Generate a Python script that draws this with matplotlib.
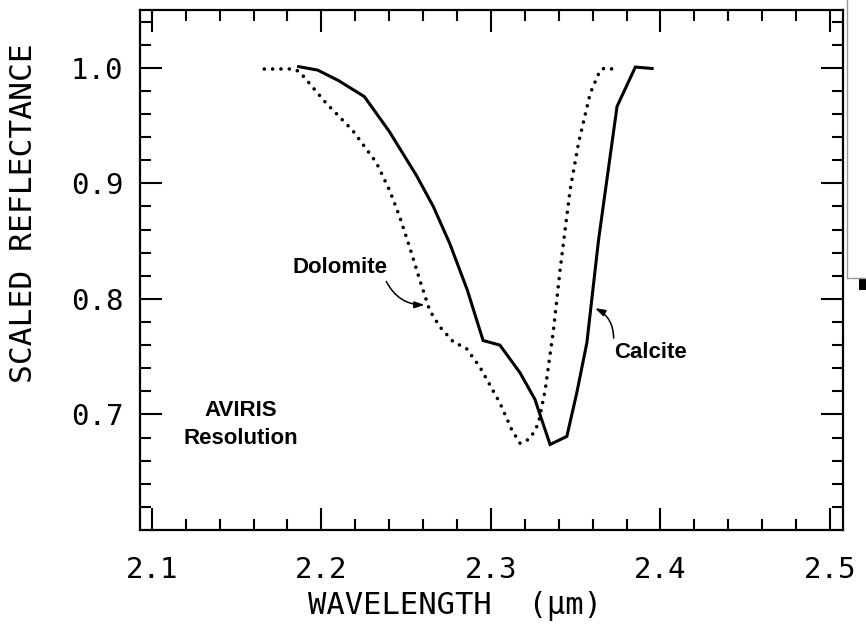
import numpy as np
import matplotlib
matplotlib.use('Agg')
import matplotlib.pyplot as plt
from matplotlib.lines import Line2D
from matplotlib.patches import Rectangle

# Calcite spectrum (solid line), AVIRIS resolution
calcite_wl = [2.1866, 2.1978, 2.2100, 2.2254, 2.2400, 2.2560, 2.2660, 2.2757,
              2.2860, 2.2954, 2.3053, 2.3172, 2.3260, 2.3280, 2.3349, 2.3448,
              2.3507, 2.3566, 2.3635, 2.3744, 2.3852, 2.3951]
calcite_refl = [1.001, 0.998, 0.989, 0.975, 0.945, 0.907, 0.880, 0.848,
                0.808, 0.764, 0.760, 0.736, 0.713, 0.704, 0.674, 0.681,
                0.719, 0.762, 0.851, 0.9665, 1.0006, 0.9994]

# Dolomite spectrum (dotted line)
dolomite_wl = [2.1663, 2.1828, 2.1870, 2.2028, 2.2183, 2.2324, 2.2402, 2.2462,
               2.2520, 2.2580, 2.2639, 2.2698, 2.2777, 2.2856, 2.2935, 2.3053,
               2.3122, 2.3172, 2.3231, 2.3280, 2.3320, 2.3369, 2.3408, 2.3467,
               2.3517, 2.3586, 2.3645, 2.3675, 2.3753]
dolomite_refl = [0.9989, 0.9990, 0.9968, 0.9694, 0.946, 0.918, 0.894, 0.871,
                 0.845, 0.8165, 0.790, 0.776, 0.763, 0.757, 0.741, 0.710,
                 0.687, 0.675, 0.679, 0.692, 0.721, 0.773, 0.825, 0.894,
                 0.935, 0.978, 0.998, 1.000, 0.998]

x_major = [2.1, 2.2, 2.3, 2.4, 2.5]
y_major = [0.7, 0.8, 0.9, 1.0]

mono = 'DejaVu Sans Mono'
sans = 'Liberation Sans'

fig = plt.figure(figsize=(8.66, 6.28), dpi=100)
W, H = 866, 628
ax = fig.add_axes([140 / W, (H - 530) / H, (843 - 140) / W, (530 - 10) / H])

ax.plot(calcite_wl, calcite_refl, color='black', lw=2.2, solid_joinstyle='miter')
ax.plot(dolomite_wl, dolomite_refl, color='black', lw=2.6,
        linestyle=(0, (0.01, 2.3)), dash_capstyle='round')

ax.set_xlim(2.093, 2.5077)
ax.set_ylim(0.6, 1.05)

ax.set_xticks(x_major)
ax.set_xticks(np.arange(2.1, 2.5001, 0.02), minor=True)
ax.set_yticks(y_major)
ax.set_yticks(np.arange(0.62, 1.0401, 0.02), minor=True)
ax.set_xticklabels(['%.1f' % v for v in x_major], fontfamily=mono, fontsize=21)
ax.set_yticklabels(['%.1f' % v for v in y_major], fontfamily=mono, fontsize=21)

ax.tick_params(which='both', direction='in', top=True, right=True, width=1.5)
ax.tick_params(which='major', length=15.5)
ax.tick_params(which='minor', length=8)
ax.tick_params(axis='x', which='major', pad=19)
ax.tick_params(axis='y', which='major', pad=12)
for s in ax.spines.values():
    s.set_linewidth(1.6)

ax.set_xlabel('WAVELENGTH  (\u03bcm)', fontfamily=mono, fontsize=22)
ax.set_ylabel('SCALED REFLECTANCE', fontfamily=mono, fontsize=22.5)
ax.xaxis.set_label_coords(0.448, -0.118)
ax.yaxis.set_label_coords(-0.145, 0.61)

# annotations
ax.text(2.1527, 0.6913, 'AVIRIS\nResolution', ha='center', va='center',
        fontfamily=sans, fontsize=16, fontweight='bold', linespacing=1.4)
ax.text(2.2107, 0.8268, 'Dolomite', ha='center', va='center',
        fontfamily=sans, fontsize=16, fontweight='bold')
ax.text(2.3941, 0.7532, 'Calcite', ha='center', va='center',
        fontfamily=sans, fontsize=16, fontweight='bold')

arrow = dict(arrowstyle='-|>,head_length=0.6,head_width=0.2', color='black',
             lw=1.1, shrinkA=0, shrinkB=0)
ax.annotate('', xy=(2.2609, 0.7948), xytext=(2.2383, 0.815),
            arrowprops=dict(arrow, connectionstyle='arc3,rad=0.3'))
ax.annotate('', xy=(2.3615, 0.792), xytext=(2.3724, 0.766),
            arrowprops=dict(arrow, connectionstyle='arc3,rad=0.3'))

# scan edge artefact on the right
fig.add_artist(Line2D([847 / W, 847 / W], [1, (H - 278) / H], color='#999999', lw=1.0))
fig.add_artist(Line2D([847 / W, 1], [(H - 278) / H, (H - 278) / H], color='#999999', lw=1.0))
fig.add_artist(Rectangle((859 / W, (H - 290) / H), 7 / W, 11 / H,
                         facecolor='black', edgecolor='none'))

fig.savefig('out.png', dpi=100)
